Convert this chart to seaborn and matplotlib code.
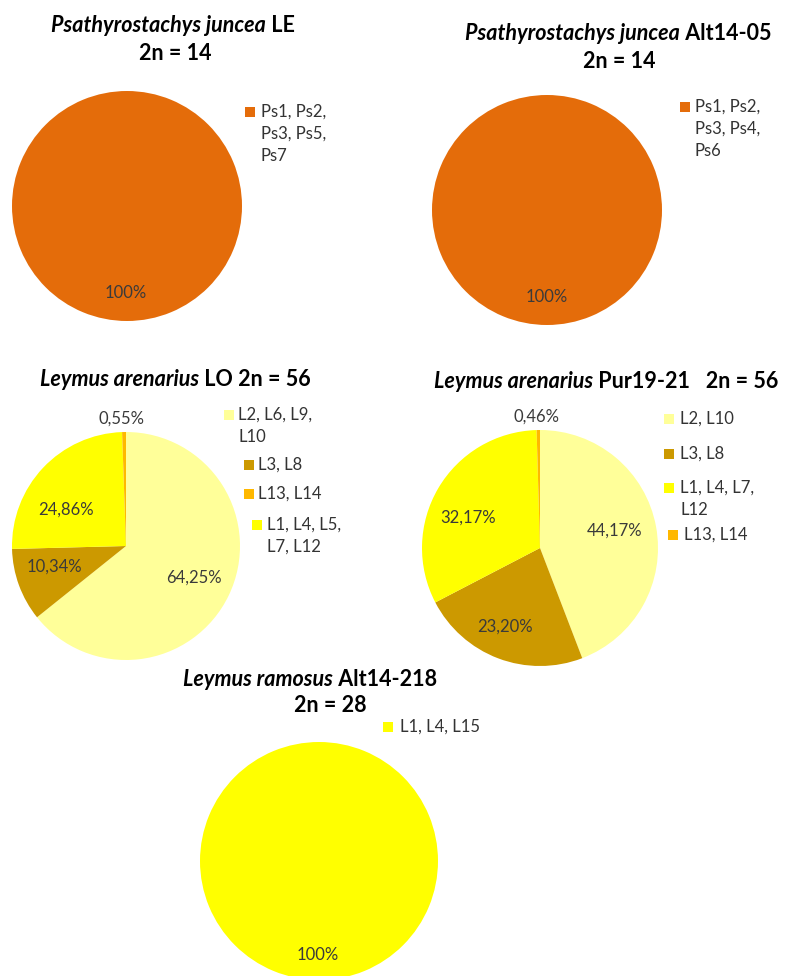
import numpy as np
import seaborn as sns
import matplotlib.pyplot as plt
from matplotlib.patches import Rectangle

# =========================
# Data
# =========================
le_labels = ["Ps1, Ps2,\nPs3, Ps5,\nPs7"]
le_values = [100]

alt05_labels = ["Ps1, Ps2,\nPs3, Ps4,\nPs6"]
alt05_values = [100]

lo_labels = ["L2, L6, L9,\nL10", "L3, L8", "L1, L4, L5,\nL7, L12", "L13, L14"]
lo_values = [64.25, 10.34, 24.86, 0.55]
lo_legend_order = [0, 1, 3, 2]

pur_labels = ["L2, L10", "L3, L8", "L1, L4, L7,\nL12", "L13, L14"]
pur_values = [44.17, 23.20, 32.17, 0.46]
pur_legend_order = [0, 1, 2, 3]

ram_labels = ["L1, L4, L15"]
ram_values = [100]

orange = "#E46C0A"
light_yellow = "#FFFF99"
dark_gold = "#CC9900"
yellow = "#FFFF00"
gold = "#FFB800"

# =========================
# Style
# =========================
sns.set_theme(style="white")
plt.rcParams['font.family'] = ['Lato', 'DejaVu Sans']

W, H = 789, 976
fig = plt.figure(figsize=(W / 100, H / 100), dpi=100)
fig.patch.set_facecolor("white")
renderer = fig.canvas.get_renderer()


def fmt_pct(p):
    if round(p) == 100:
        return "100%"
    return f"{p:.2f}%".replace(".", ",")


def draw_pie(values, colors, cx, cy, r, label_pos):
    ax = fig.add_axes([(cx - r) / W, 1 - (cy + r) / H, 2 * r / W, 2 * r / H])
    wedges, texts, autotexts = ax.pie(
        values, colors=colors, startangle=90, counterclock=False,
        radius=1, autopct=fmt_pct, wedgeprops=dict(linewidth=0),
        textprops=dict(fontsize=12, color="#3a3a3a"))
    for t, pos in zip(autotexts, label_pos):
        t.set_position(pos)
        t.set_clip_on(False)
    ax.set_xlim(-1, 1)
    ax.set_ylim(-1, 1)
    ax.axis("off")
    return ax


def draw_legend(labels, colors, order, places, line_h=22):
    for i, (sx, sy, tx) in zip(order, places):
        fig.add_artist(Rectangle(((sx) / W, 1 - (sy + 5) / H), 10 / W, 10 / H,
                                 transform=fig.transFigure, color=colors[i], lw=0))
        for k, line in enumerate(labels[i].split("\n")):
            fig.text(tx / W, 1 - (sy + k * line_h) / H, line, fontsize=12,
                     color="#333333", va="center", ha="left")


def title_line(parts, cx, y, size=15.5):
    objs = []
    for s, st in parts:
        objs.append(fig.text(0, 1 - y / H, s, fontstyle=st, fontweight="bold",
                             fontsize=size, va="center", ha="left", color="black"))
    widths = [t.get_window_extent(renderer).width for t in objs]
    x = cx - sum(widths) / 2
    for t, w in zip(objs, widths):
        t.set_x(x / W)
        x += w


# =========================
# Pies
# =========================
draw_pie(le_values, [orange], 127, 206, 115, [(-0.01, -0.76)])
draw_legend(le_labels, [orange], [0], [(245, 112, 261)])
title_line([("Psathyrostachys juncea", "italic"), (" LE", "normal")], 173, 25)
title_line([("2n = 14", "normal")], 175, 54)

draw_pie(alt05_values, [orange], 547, 210, 115, [(0.0, -0.76)])
draw_legend(alt05_labels, [orange], [0], [(680, 107, 695)])
title_line([("Psathyrostachys juncea", "italic"), (" Alt14-05", "normal")], 618, 33)
title_line([("2n = 14", "normal")], 619, 62)

lo_colors = [light_yellow, dark_gold, yellow, gold]
draw_pie(lo_values, lo_colors, 126, 546, 114,
         [(0.60, -0.28), (-0.63, -0.18), (-0.53, 0.32), (-0.04, 1.12)])
draw_legend(lo_labels, lo_colors, lo_legend_order,
            [(224, 415, 238), (244, 465, 258), (244, 494, 258), (252, 525, 267)])
title_line([("Leymus arenarius", "italic"), (" LO 2n = 56", "normal")], 175, 379)

pur_colors = [light_yellow, dark_gold, yellow, gold]
draw_pie(pur_values, pur_colors, 540, 548, 118,
         [(0.63, 0.15), (-0.30, -0.67), (-0.61, 0.26), (-0.03, 1.11)])
draw_legend(pur_labels, pur_colors, pur_legend_order,
            [(664, 419, 680), (664, 454, 680), (664, 488, 680), (668, 535, 684)])
title_line([("Leymus arenarius", "italic"), (" Pur19-21   2n = 56", "normal")], 606, 382)

draw_pie(ram_values, [yellow], 319, 861, 119, [(-0.01, -0.79)])
draw_legend(ram_labels, [yellow], [0], [(383, 727, 400)])
title_line([("Leymus ramosus", "italic"), (" Alt14-218", "normal")], 310, 680)
title_line([("2n = 28", "normal")], 330, 706)

plt.savefig("out.png", dpi=100)
